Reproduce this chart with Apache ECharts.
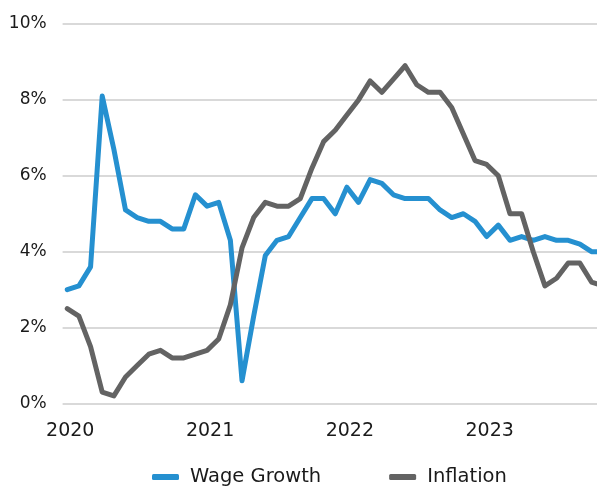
<!DOCTYPE html>
<html>
<head>
<meta charset="utf-8">
<script src="https://cdn.jsdelivr.net/npm/echarts@6/dist/echarts.min.js"></script>
<style>
html,body{margin:0;padding:0;background:#fff;}
#c{width:597px;height:487px;}
</style>
</head>
<body>
<div id="c"></div>
<script>
// Monthly data, Jan 2020 onward (index 0 = Jan 2020)
var months = ['2020-01','2020-02','2020-03','2020-04','2020-05','2020-06','2020-07','2020-08','2020-09','2020-10','2020-11','2020-12',
  '2021-01','2021-02','2021-03','2021-04','2021-05','2021-06','2021-07','2021-08','2021-09','2021-10','2021-11','2021-12',
  '2022-01','2022-02','2022-03','2022-04','2022-05','2022-06','2022-07','2022-08','2022-09','2022-10','2022-11','2022-12',
  '2023-01','2023-02','2023-03','2023-04','2023-05','2023-06','2023-07','2023-08','2023-09','2023-10','2023-11'];
var wageGrowth = [3.0,3.1,3.6,8.1,6.7,5.1,4.9,4.8,4.8,4.6,4.6,5.5,
  5.2,5.3,4.3,0.6,2.3,3.9,4.3,4.4,4.9,5.4,5.4,5.0,
  5.7,5.3,5.9,5.8,5.5,5.4,5.4,5.4,5.1,4.9,5.0,4.8,
  4.4,4.7,4.3,4.4,4.3,4.4,4.3,4.3,4.2,4.0,4.0];
var inflation = [2.5,2.3,1.5,0.3,0.2,0.7,1.0,1.3,1.4,1.2,1.2,1.3,
  1.4,1.7,2.6,4.1,4.9,5.3,5.2,5.2,5.4,6.2,6.9,7.2,
  7.6,8.0,8.5,8.2,8.55,8.9,8.4,8.2,8.2,7.8,7.1,6.4,
  6.3,6.0,5.0,5.0,4.0,3.1,3.3,3.7,3.7,3.2,3.1];
var yearLabels = ['2020','2021','2022','2023'];
var yTicks = [0,2,4,6,8,10];

function pairs(arr){ return arr.map(function(v,i){ return [i, v]; }); }
var yearIdx = yearLabels.map(function(y){ return months.indexOf(y + '-01'); });

var FONT = '"DejaVu Sans", "Liberation Sans", Arial, sans-serif';
var chart = echarts.init(document.getElementById('c'), null, {renderer:'canvas'});
chart.setOption({
  animation:false,
  backgroundColor:'#ffffff',
  grid:{left:62.6, right:0, top:24, bottom:83.5, containLabel:false},
  xAxis:{
    type:'value', min:-0.4, max:45.47,
    axisLine:{show:false}, axisTick:{show:false}, splitLine:{show:false},
    axisLabel:{
      customValues: yearIdx,
      formatter:function(v){ var k = yearIdx.indexOf(Math.round(v)); return k>=0 ? yearLabels[k] : ''; },
      color:'#1a1a1a', fontFamily:FONT, fontSize:19, margin:18, padding:[0,0,0,6]
    }
  },
  yAxis:{
    type:'value', min:yTicks[0], max:yTicks[yTicks.length-1], interval:2,
    axisLine:{show:false}, axisTick:{show:false},
    splitLine:{lineStyle:{color:'#d9d9d9', width:2}},
    axisLabel:{formatter:'{value}%', color:'#1a1a1a', fontFamily:FONT, fontSize:17, margin:16}
  },
  legend:{
    top:462, left:147, itemWidth:27, itemHeight:6, itemGap:68,
    icon:'roundRect',
    textStyle:{color:'#1a1a1a', fontFamily:FONT, fontSize:19.5, padding:[0,0,0,6]},
    data:['Wage Growth','Inflation']
  },
  series:[
    {name:'Wage Growth', type:'line', data:pairs(wageGrowth), symbol:'none', smooth:false,
     lineStyle:{color:'#2590d0', width:5, join:'round', cap:'round'}, itemStyle:{color:'#2590d0'}},
    {name:'Inflation', type:'line', data:pairs(inflation), symbol:'none', smooth:false,
     lineStyle:{color:'#636363', width:5, join:'round', cap:'round'}, itemStyle:{color:'#636363'}}
  ]
});
</script>
</body>
</html>
